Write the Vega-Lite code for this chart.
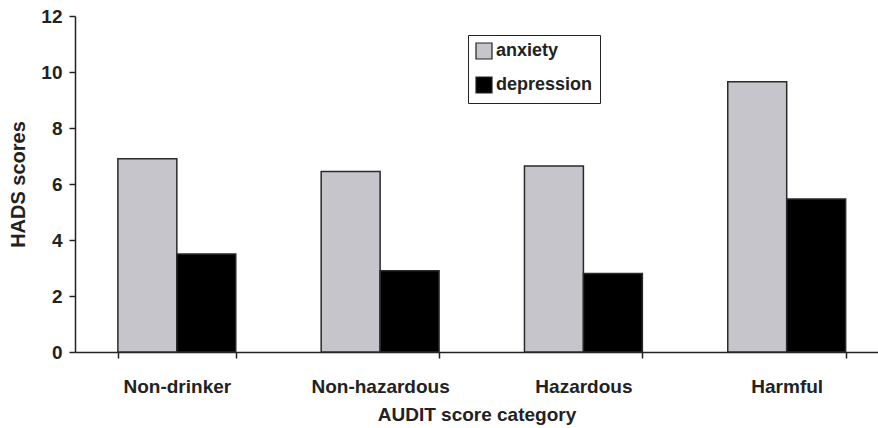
{
  "$schema": "https://vega.github.io/schema/vega-lite/v6.json",
  "width": 878,
  "height": 428,
  "autosize": {"type": "fit", "contains": "padding"},
  "padding": {"left": 8, "top": 7, "right": 0, "bottom": 4},
  "background": "white",
  "config": {
    "font": "Liberation Sans",
    "view": {"stroke": null},
    "axis": {"domainColor": "#222", "domainWidth": 1.5, "tickColor": "#222", "tickWidth": 1.5, "grid": false, "labelColor": "#222", "titleColor": "#222", "labelFont": "Liberation Sans", "titleFont": "Liberation Sans", "labelFontWeight": "bold", "titleFontWeight": "bold"}
  },
  "data": {
    "values": [
      {"category": "Non-drinker", "measure": "anxiety", "score": 6.9},
      {"category": "Non-drinker", "measure": "depression", "score": 3.5},
      {"category": "Non-hazardous", "measure": "anxiety", "score": 6.45},
      {"category": "Non-hazardous", "measure": "depression", "score": 2.9},
      {"category": "Hazardous", "measure": "anxiety", "score": 6.64},
      {"category": "Hazardous", "measure": "depression", "score": 2.8},
      {"category": "Harmful", "measure": "anxiety", "score": 9.65},
      {"category": "Harmful", "measure": "depression", "score": 5.46}
    ]
  },
  "mark": {"type": "bar", "stroke": "#2a2a2a", "strokeWidth": 1.5},
  "encoding": {
    "x": {
      "field": "category", "type": "nominal",
      "sort": ["Non-drinker", "Non-hazardous", "Hazardous", "Harmful"],
      "scale": {"paddingInner": 0.42, "paddingOuter": 0.185, "align": 0.57},
      "axis": {"title": "AUDIT score category", "labelAngle": 0, "tickBand": "extent", "tickSize": 6, "labelPadding": 19, "labelFontSize": 19, "titleFontSize": 19, "titlePadding": 9}
    },
    "xOffset": {"field": "measure", "type": "nominal", "sort": ["anxiety", "depression"]},
    "y": {
      "field": "score", "type": "quantitative",
      "scale": {"domain": [0, 12], "nice": false},
      "axis": {"title": "HADS scores", "values": [0, 2, 4, 6, 8, 10, 12], "tickSize": 6, "labelPadding": 7, "labelFontSize": 19, "titleFontSize": 20, "titlePadding": 12}
    },
    "color": {
      "field": "measure", "type": "nominal",
      "scale": {"domain": ["anxiety", "depression"], "range": ["#c6c5cb", "#000000"]},
      "legend": {
        "title": null, "orient": "none", "legendX": 393, "legendY": 19,
        "strokeColor": "#222", "padding": 7, "symbolType": "square", "symbolSize": 256,
        "symbolStrokeColor": "#222", "symbolStrokeWidth": 1.2, "symbolOpacity": 1,
        "labelFontSize": 18, "labelFontWeight": "bold", "labelColor": "#222", "labelOffset": 3, "rowPadding": 12
      }
    }
  }
}
